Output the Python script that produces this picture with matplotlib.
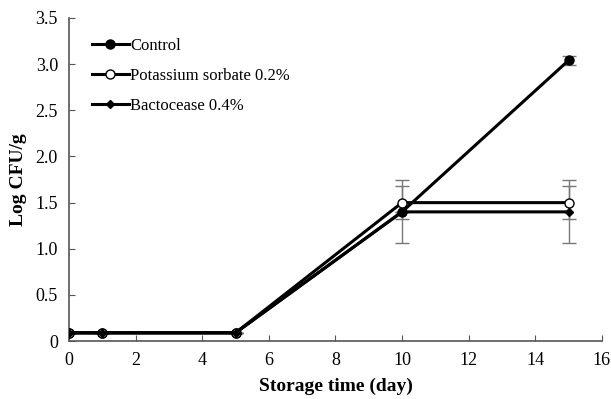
import matplotlib
matplotlib.use("Agg")
import matplotlib.pyplot as plt

plt.rcParams["font.family"] = ["Liberation Serif", "DejaVu Serif"]

days = [0, 1, 5, 10, 15]
control = [0.09, 0.09, 0.09, 1.40, 3.04]
control_err = [0.0, 0.0, 0.0, 0.0, 0.05]
sorbate = [0.09, 0.09, 0.09, 1.50, 1.50]
sorbate_err = [0.0, 0.0, 0.0, 0.18, 0.18]
bacto = [0.09, 0.09, 0.09, 1.40, 1.40]
bacto_err = [0.0, 0.0, 0.0, 0.34, 0.34]

fig = plt.figure(figsize=(6.11, 3.99), dpi=100)
ax = fig.add_axes([0.113, 0.145, 0.872, 0.81])

series = [
    (control, control_err, "o", "black", "Control"),
    (sorbate, sorbate_err, "o", "white", "Potassium sorbate 0.2%"),
    (bacto, bacto_err, "D", "black", "Bactocease 0.4%"),
]
for vals, err, mk, fc, label in series:
    ax.errorbar(days, vals, yerr=err, fmt="none", ecolor="#777777",
                elinewidth=1, capsize=5, capthick=1, zorder=2)
for vals, err, mk, fc, label in series:
    ax.plot(days, vals, color="black", lw=2.2, marker=mk,
            ms=6.5 if mk == "o" else 4.5, mfc=fc, mec="black", mew=1.0,
            label=label, zorder=3)

ax.set_xlim(0, 16)
ax.set_ylim(0, 3.5)
ax.set_xticks(range(0, 17, 2))
ax.set_yticks([0, 0.5, 1.0, 1.5, 2.0, 2.5, 3.0, 3.5])
ax.set_yticklabels(["0", "0.5", "1.0", "1.5", "2.0", "2.5", "3.0", "3.5"])
ax.tick_params(direction="in", length=4, color="#555555", labelsize=13,
               pad=8)
for s in ["top", "right"]:
    ax.spines[s].set_visible(False)
for s in ["left", "bottom"]:
    ax.spines[s].set_color("#555555")
    ax.spines[s].set_linewidth(1.2)

ax.set_xlabel("Storage time (day)", fontsize=14, fontweight="bold",
              labelpad=6)
ax.set_ylabel("Log CFU/g", fontsize=14, fontweight="bold", labelpad=6)

ax.legend(loc="upper left", bbox_to_anchor=(0.015, 0.985), frameon=False,
          fontsize=12, handlelength=2.2, handletextpad=0.1,
          labelspacing=0.85)

fig.savefig("out.png", dpi=100)
